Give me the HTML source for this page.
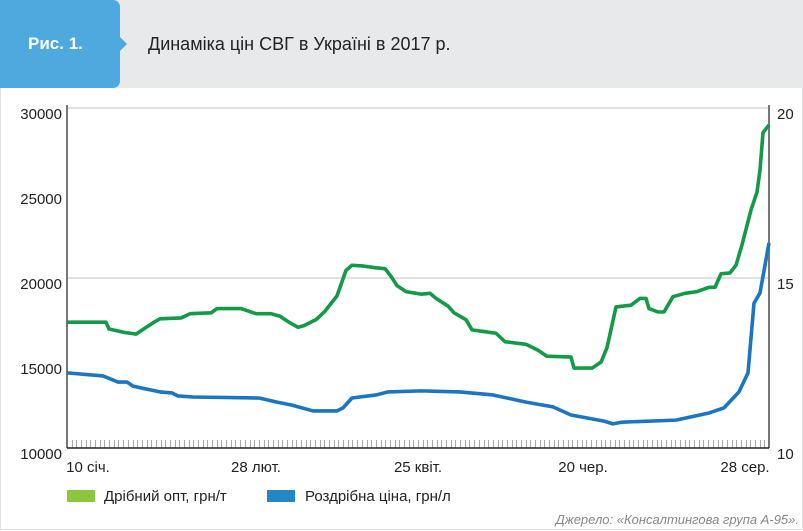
<!DOCTYPE html>
<html><head><meta charset="utf-8"><style>
body{margin:0;width:803px;height:531px;background:#fff;overflow:hidden;font-family:"Liberation Sans",sans-serif;}
.hdr{position:absolute;left:0;top:0;width:803px;height:88px;background:#e8e9eb;}
.tag{position:absolute;left:0;top:0;width:120px;height:88px;background:#4ea9de;border-radius:0 7px 7px 0;}
.tag:after{content:"";position:absolute;right:-7px;top:37px;border-left:7px solid #4ea9de;border-top:7px solid transparent;border-bottom:7px solid transparent;}
.tagt{position:absolute;left:28px;top:34px;color:#fff;font-weight:bold;font-size:17px;}
.title{position:absolute;left:148px;top:34px;font-size:18px;color:#222;}
.panel{position:absolute;left:0;top:88px;width:801px;height:441px;border:1px solid #e2e2e2;border-top:none;}
svg{position:absolute;left:0;top:0;}
</style></head><body>
<div class="hdr"></div>
<div class="tag"><span class="tagt">Рис. 1.</span></div>
<div class="title">Динаміка цін СВГ в Україні в 2017 р.</div>
<div class="panel"></div>
<svg id="chart" width="803" height="531"></svg>
<script>
const greenDays=[0,13,14,19,23,26,29,31,38,41,48,50,58,63,68,71,74,77,79,83,86,90,93,95,99,103,106,108,110,113,118,121,123,127,129,133,135,139,143,146,153,157,160,168,169,175,178,180,183,188,191,193,194,197,199,202,206,210,214,216,218,221,223,225,228,230,231,232,234];
const greenValues=[17400,17400,17000,16800,16700,17050,17400,17600,17650,17900,17950,18200,18200,17900,17900,17750,17400,17100,17200,17550,18050,18950,20450,20750,20700,20600,20550,20100,19550,19200,19050,19100,18800,18350,17950,17550,16950,16850,16750,16250,16100,15750,15400,15350,14700,14700,15050,15900,18300,18400,18800,18800,18200,18000,18000,18900,19100,19200,19450,19450,20250,20300,20750,21950,24000,25050,26350,28550,29000];
const blueDays=[0,12,17,20,22,25,31,35,37,42,64,70,75,82,90,92,95,103,107,118,131,142,153,162,168,179,182,185,203,214,219,224,227,229,231,234];
const blueValues=[12.21,12.12,11.94,11.94,11.82,11.76,11.65,11.62,11.53,11.5,11.47,11.35,11.26,11.09,11.09,11.18,11.47,11.56,11.65,11.68,11.65,11.56,11.35,11.21,10.97,10.79,10.71,10.76,10.82,11.03,11.18,11.65,12.21,14.26,14.56,16.03];
const leftTicks=[10000,15000,20000,25000,30000];
const rightTicks=[10,15,20];
const xLabels=["10 січ.","28  лют.","25 квіт.","20 чер.","28 сер."];
const xLabelDays=[7,63,117,172,226];
const NS="http://www.w3.org/2000/svg";
const svg=document.getElementById('chart');
const X0=67,X1=769,Y0=448,Y1=108,DMAX=234;
const xs=d=>X0+(d/DMAX)*(X1-X0);
const yl=v=>Y0-(v-10000)/20000*(Y0-Y1);
const yr=v=>Y0-(v-10)/10*(Y0-Y1);
function mk(t,a){const e=document.createElementNS(NS,t);for(const k in a)e.setAttribute(k,a[k]);svg.appendChild(e);return e;}
[20000,30000].forEach(v=>{const g=mk('line',{x1:X0,x2:X1,y1:yl(v),y2:yl(v),stroke:'#cfcfcf','stroke-width':1.3});

});
for(let i=0;i<=150;i++){const x=Math.round(X0+i*(X1-X0)/150)+0.5;const t=mk('line',{x1:x,x2:x,y1:Y0-8,y2:Y0,stroke:'#aaa','stroke-width':1});

}
let a=mk('line',{x1:X0,x2:X0,y1:Y1-3,y2:Y0,stroke:'#777','stroke-width':2});


a=mk('line',{x1:X1,x2:X1,y1:Y1-3,y2:Y0,stroke:'#777','stroke-width':2});


a=mk('line',{x1:X0,x2:X1,y1:Y0,y2:Y0,stroke:'#222','stroke-width':1.5});


leftTicks.forEach(v=>{const t=mk('text',{x:62,y:yl(v)+11,'text-anchor':'end','font-size':15,fill:'#222'});t.textContent=v;

});
rightTicks.forEach(v=>{const t=mk('text',{x:777,y:yr(v)+11,'font-size':15,fill:'#222'});t.textContent=v;

});
xLabels.forEach((s,i)=>{const t=mk('text',{x:xs(xLabelDays[i]),y:472,'text-anchor':'middle','font-size':15,fill:'#222','xml:space':'preserve'});t.textContent=s;

});
function line(days,vals,f,c,n){const p=mk('polyline',{points:days.map((d,i)=>xs(d)+','+f(vals[i])).join(' '),fill:'none',stroke:c,'stroke-width':3.6,'stroke-linejoin':'round'});

}
line(blueDays,blueValues,yr,'#1b76c1','retail-price-line');
line(greenDays,greenValues,yl,'#139a46','wholesale-price-line');
let r=mk('rect',{x:67,y:490,width:28,height:12,fill:'#8cc63f'});


let t=mk('text',{x:104,y:501,'font-size':15,fill:'#222'});t.textContent='Дрібний опт, грн/т';


r=mk('rect',{x:267,y:490,width:28,height:12,fill:'#2585c7'});


t=mk('text',{x:305,y:501,'font-size':15,fill:'#222'});t.textContent='Роздрібна ціна, грн/л';


t=mk('text',{x:799,y:524,'text-anchor':'end','font-size':13,'font-style':'italic',fill:'#888'});t.textContent='Джерело: «Консалтингова група А-95».';


</script>
</body></html>
